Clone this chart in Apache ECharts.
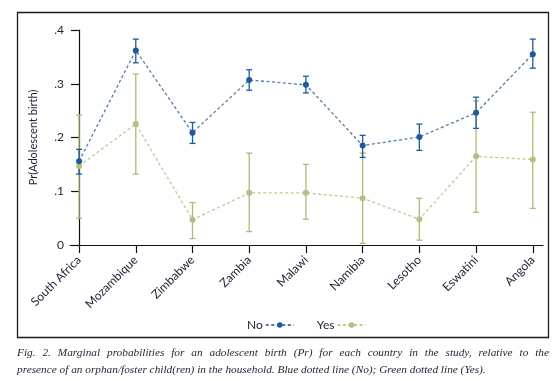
<!DOCTYPE html>
<html>
<head>
<meta charset="utf-8">
<script src="https://cdn.jsdelivr.net/npm/echarts@6/dist/echarts.min.js"></script>
<style>
  html, body { margin: 0; padding: 0; background: #fff; }
  #main { width: 560px; height: 381px; }
</style>
</head>
<body>
<div id="main"></div>
<script>
// 国家 (x 轴类别)
var countries = ["South Africa", "Mozambique", "Zimbabwe", "Zambia", "Malawi",
  "Namibia", "Lesotho", "Eswatini", "Angola"];

// No (blue): estimate, lower, upper
var noEst = [0.156, 0.362, 0.209, 0.307, 0.298, 0.185, 0.201, 0.246, 0.355];
var noLow = [0.132, 0.339, 0.189, 0.288, 0.283, 0.163, 0.176, 0.217, 0.329];
var noHigh = [0.178, 0.383, 0.228, 0.326, 0.314, 0.204, 0.225, 0.275, 0.383];

// Yes (green)
var yesEst = [0.147, 0.225, 0.047, 0.097, 0.097, 0.087, 0.048, 0.165, 0.159];
var yesLow = [0.050, 0.132, 0.012, 0.025, 0.048, 0.003, 0.009, 0.061, 0.068];
var yesHigh = [0.242, 0.318, 0.079, 0.171, 0.150, 0.171, 0.087, 0.268, 0.247];

var yTicks = [0, 0.1, 0.2, 0.3, 0.4];
var yTickLabels = ["0", ".1", ".2", ".3", ".4"];

var caption1 = "Fig. 2. Marginal probabilities for an adolescent birth (Pr) for each country in the study, relative to the";
var caption2 = "presence of an orphan/foster child(ren) in the household. Blue dotted line (No); Green dotted line (Yes).";

var BLUE = "#1b5ba6";
var BLUE_LINE = "#5479b6";
var GREEN = "#b3b874";
var GREEN_LINE = "#c4c894";
var INK = "#1d2138";
var SANS = "Lato";
var SERIF = "Liberation Serif";

var idx = countries.map(function (c, i) { return i; });

function pts(arr) {
  return arr.map(function (v, i) { return [i, v]; });
}
function bars(lo, hi) {
  return lo.map(function (v, i) { return [i, v, hi[i]]; });
}

function errorBar(color) {
  return function (params, api) {
    var x = api.value(0);
    var a = api.coord([x, api.value(1)]);
    var b = api.coord([x, api.value(2)]);
    var w = 3;
    var st = { stroke: color, lineWidth: 1.3 };
    return {
      type: "group",
      children: [
        { type: "line", shape: { x1: a[0], y1: a[1], x2: b[0], y2: b[1] }, style: st },
        { type: "line", shape: { x1: a[0] - w, y1: a[1], x2: a[0] + w, y2: a[1] }, style: st },
        { type: "line", shape: { x1: b[0] - w, y1: b[1], x2: b[0] + w, y2: b[1] }, style: st }
      ]
    };
  };
}

// 两端对齐的标题第一行
function justifiedLine(text, x0, x1, y, font) {
  var ctx = document.createElement("canvas").getContext("2d");
  ctx.font = font;
  var words = text.split(" ");
  var widths = words.map(function (w) { return ctx.measureText(w).width; });
  var total = widths.reduce(function (s, w) { return s + w; }, 0);
  var gap = (x1 - x0 - total) / (words.length - 1);
  var out = [];
  var x = x0;
  words.forEach(function (w, i) {
    out.push({
      type: "text", left: x, top: y,
      style: { text: w, font: font, fill: INK }
    });
    x += widths[i] + gap;
  });
  return out;
}

var capFont = "italic 11.3px '" + SERIF + "'";

var myChart = echarts.init(document.getElementById("main"));

var option = {
  animation: false,
  grid: { left: 70, right: 17, top: 30, bottom: 136 },
  legend: {
    data: ["No", "Yes"],
    left: 242,
    top: 314,
    align: "right",
    itemWidth: 28,
    itemHeight: 7,
    itemGap: 22,
    textStyle: { fontFamily: SANS, fontSize: 12, color: INK, padding: [0, -2, 0, 0] }
  },
  xAxis: {
    type: "value",
    min: -0.16,
    max: 8.18,
    splitLine: { show: false },
    axisLine: { lineStyle: { color: "#111", width: 1.2 } },
    axisTick: { show: true, customValues: idx, length: 8, lineStyle: { color: "#111", width: 1.2 } },
    axisLabel: {
      customValues: idx,
      rotate: 45,
      margin: 13,
      fontFamily: SANS,
      fontSize: 12,
      color: INK,
      formatter: function (v) { return countries[Math.round(v)]; }
    }
  },
  yAxis: {
    type: "value",
    min: 0,
    max: 0.4,
    interval: 0.1,
    name: "Pr(Adolescent birth)",
    nameLocation: "middle",
    nameGap: 31,
    nameTextStyle: { fontFamily: SANS, fontSize: 11, color: INK },
    splitLine: { show: false },
    axisLine: { show: true, lineStyle: { color: "#111", width: 1.2 } },
    axisTick: { show: true, length: 8, lineStyle: { color: "#111", width: 1.2 } },
    axisLabel: {
      margin: 6,
      fontFamily: SANS,
      fontSize: 12,
      color: INK,
      formatter: function (v) {
        var k = yTicks.indexOf(Math.round(v * 10) / 10);
        return k >= 0 ? yTickLabels[k] : "";
      }
    }
  },
  series: [
    {
      name: "YesCI",
      type: "custom",
      renderItem: errorBar(GREEN),
      encode: { x: 0, y: [1, 2] },
      data: bars(yesLow, yesHigh),
      z: 2
    },
    {
      name: "NoCI",
      type: "custom",
      renderItem: errorBar(BLUE),
      encode: { x: 0, y: [1, 2] },
      data: bars(noLow, noHigh),
      z: 3
    },
    {
      name: "Yes",
      type: "line",
      data: pts(yesEst),
      symbol: "circle",
      symbolSize: 6,
      itemStyle: { color: "#b9bd82" },
      lineStyle: { color: GREEN_LINE, width: 1.3, type: [3, 2.5] },
      z: 4
    },
    {
      name: "No",
      type: "line",
      data: pts(noEst),
      symbol: "circle",
      symbolSize: 6,
      itemStyle: { color: BLUE },
      lineStyle: { color: BLUE_LINE, width: 1.3, type: [3, 2.5] },
      z: 5
    }
  ],
  graphic: [
    {
      type: "rect",
      shape: { x: 17.5, y: 12.5, width: 531, height: 325 },
      style: { fill: "none", stroke: "#1a1a1a", lineWidth: 1.3 },
      silent: true
    }
  ].concat(justifiedLine(caption1, 17, 549, 348, capFont)).concat([
    {
      type: "text", left: 17, top: 365,
      style: { text: caption2, font: capFont, fill: INK }
    }
  ])
};

myChart.setOption(option);
window.addEventListener("resize", myChart.resize);
</script>
</body>
</html>
